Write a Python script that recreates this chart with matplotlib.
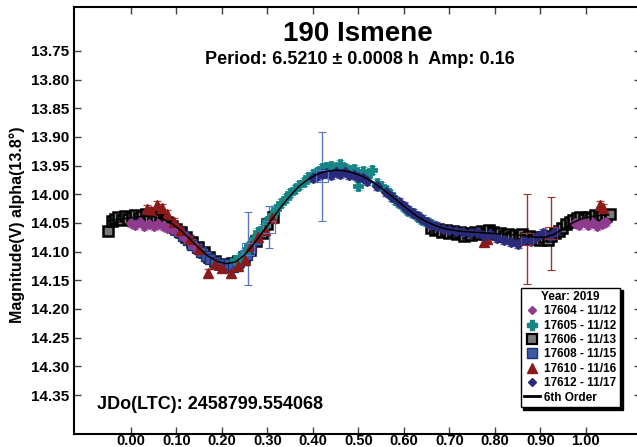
import matplotlib.pyplot as plt
from matplotlib.lines import Line2D

plt.rcParams['font.family'] = ['Liberation Sans', 'DejaVu Sans']
plt.rcParams['font.weight'] = 'bold'

# session 17604 - 11/12 (purple diamonds)
s04_ph = [0.000, 0.010, 0.020, 0.030, 0.040, 0.050, 0.060, 0.070, 0.080, 0.090, 0.100, 0.110, 0.120, 0.130, 0.140,
          0.975, 0.985, 0.995, 1.005, 1.015, 1.025, 1.035, 1.045]
s04_mag = [14.050, 14.053, 14.048, 14.055, 14.051, 14.056, 14.052, 14.055, 14.058, 14.060, 14.064, 14.068, 14.076, 14.083, 14.090,
           14.050, 14.053, 14.048, 14.054, 14.050, 14.055, 14.052, 14.049]

# session 17605 - 11/12 (teal pluses)
s05_ph = [0.230, 0.240, 0.250, 0.260, 0.270, 0.280, 0.290, 0.300, 0.310, 0.320, 0.330, 0.340, 0.350, 0.360, 0.370,
          0.380, 0.390, 0.400, 0.410, 0.420, 0.430, 0.440, 0.450, 0.460, 0.470, 0.480, 0.490, 0.500, 0.510, 0.520,
          0.530, 0.540, 0.550, 0.560, 0.570, 0.580, 0.590, 0.600, 0.610, 0.620, 0.630, 0.640, 0.650, 0.660]
s05_mag = [14.115, 14.110, 14.100, 14.090, 14.078, 14.066, 14.058, 14.046, 14.036, 14.026, 14.016, 14.006, 13.998, 13.990, 13.983,
           13.978, 13.970, 13.965, 13.962, 13.955, 13.952, 13.950, 13.954, 13.948, 13.955, 13.958, 13.956, 13.985, 13.960, 13.968,
           13.958, 13.980, 13.986, 13.993, 14.000, 14.010, 14.016, 14.022, 14.030, 14.032, 14.040, 14.044, 14.048, 14.052]

# session 17606 - 11/13 (gray squares)
s06_ph = [-0.050, -0.042, -0.035, -0.028, -0.020, -0.012, -0.005, 0.003, 0.010, 0.018, 0.025, 0.033, 0.040, 0.048, 0.056,
          0.064, 0.072, 0.080, 0.090, 0.100, 0.110, 0.122, 0.135, 0.148, 0.160, 0.172, 0.185, 0.197, 0.210, 0.222,
          0.235, 0.248, 0.262, 0.275, 0.288, 0.300, 0.312,
          0.660, 0.668, 0.676, 0.684, 0.692, 0.700, 0.708, 0.716, 0.724, 0.732, 0.740, 0.748, 0.756, 0.764, 0.772,
          0.780, 0.788, 0.796, 0.804, 0.812, 0.820, 0.828, 0.836, 0.844, 0.852, 0.860, 0.868, 0.876, 0.884, 0.892,
          0.900, 0.908, 0.916, 0.924, 0.932, 0.940, 0.948, 0.956, 0.964, 0.972, 0.980, 0.988, 0.996, 1.004, 1.012,
          1.020, 1.028, 1.036, 1.044, 1.052]
s06_mag = [14.064, 14.047, 14.043, 14.040, 14.045, 14.038, 14.043, 14.040, 14.036, 14.042, 14.038, 14.035, 14.041, 14.037, 14.040,
           14.043, 14.046, 14.049, 14.055, 14.060, 14.066, 14.074, 14.083, 14.092, 14.101, 14.110, 14.116, 14.121, 14.124, 14.120,
           14.117, 14.110, 14.097, 14.082, 14.068, 14.052, 14.040,
           14.058, 14.062, 14.060, 14.066, 14.063, 14.068, 14.064, 14.070, 14.066, 14.072, 14.067, 14.071, 14.065, 14.069, 14.064,
           14.068, 14.062, 14.066, 14.070, 14.068, 14.073, 14.069, 14.075, 14.071, 14.074, 14.070, 14.076, 14.072, 14.078, 14.074,
           14.079, 14.075, 14.080, 14.073, 14.068, 14.064, 14.058, 14.052, 14.048, 14.044, 14.042, 14.040, 14.043, 14.039, 14.041,
           14.037, 14.040, 14.036, 14.038, 14.035]

# session 17608 - 11/15 (blue squares)
s08_ph = [0.095, 0.105, 0.115, 0.125, 0.135, 0.145, 0.155, 0.165, 0.175, 0.185, 0.195, 0.205, 0.215, 0.225, 0.235,
          0.245, 0.255, 0.265, 0.275]
s08_mag = [14.058, 14.066, 14.072, 14.080, 14.088, 14.094, 14.101, 14.108, 14.113, 14.118, 14.121, 14.126, 14.122, 14.127, 14.120,
           14.115, 14.106, 14.094, 14.080]

# session 17610 - 11/16 (dark red triangles)
s10_ph = [0.035, 0.045, 0.058, 0.068, 0.080, 0.095, 0.110, 0.130, 0.150, 0.170, 0.185, 0.200, 0.220, 0.235, 0.250,
          0.265, 0.280, 0.295, 0.310, 0.775, 0.782, 1.030, 1.038]
s10_mag = [14.025, 14.030, 14.018, 14.024, 14.035, 14.048, 14.062, 14.078, 14.096, 14.138, 14.122, 14.128, 14.138, 14.125, 14.115,
           14.090, 14.074, 14.062, 14.042, 14.084, 14.078, 14.018, 14.024]

# session 17612 - 11/17 (navy diamonds)
s12_ph = [0.400, 0.410, 0.420, 0.430, 0.440, 0.450, 0.460, 0.470, 0.480, 0.490, 0.500, 0.510, 0.520, 0.540, 0.560,
          0.575, 0.590, 0.600, 0.610, 0.620, 0.630, 0.640, 0.650, 0.660, 0.670, 0.685, 0.700, 0.715, 0.730, 0.745,
          0.760, 0.775, 0.790, 0.805, 0.820, 0.835, 0.850, 0.865, 0.880, 0.895, 0.905, 0.920, 0.935]
s12_mag = [13.972, 13.968, 13.965, 13.963, 13.966, 13.962, 13.965, 13.962, 13.967, 13.966, 13.970, 13.972, 13.976, 13.985, 13.996,
           14.004, 14.014, 14.020, 14.027, 14.032, 14.038, 14.043, 14.048, 14.053, 14.056, 14.060, 14.062, 14.064, 14.066, 14.068,
           14.066, 14.072, 14.070, 14.076, 14.080, 14.084, 14.086, 14.080, 14.082, 14.072, 14.068, 14.072, 14.064]

# points with large errors
big_ph = [0.258, 0.304, 0.420, 0.871, 0.924]
big_mag = [14.095, 14.057, 13.969, 14.078, 14.068]
big_err = [0.064, 0.037, 0.077, 0.078, 0.064]
big_col = ['#5a78c8', '#5a78c8', '#5a78c8', '#a03030', '#a03030']

# 6th order fourier fit
fit_ph = [-0.05, -0.03, -0.01, 0.01, 0.03, 0.05, 0.07, 0.09, 0.11, 0.13, 0.15, 0.17, 0.19, 0.21, 0.23,
          0.25, 0.27, 0.29, 0.31, 0.33, 0.35, 0.37, 0.39, 0.41, 0.43, 0.45, 0.47, 0.49, 0.51, 0.53,
          0.55, 0.57, 0.59, 0.61, 0.63, 0.65, 0.67, 0.69, 0.71, 0.73, 0.75, 0.77, 0.79, 0.81, 0.83,
          0.85, 0.87, 0.89, 0.91, 0.93, 0.95, 0.97, 0.99, 1.01, 1.03, 1.05]
fit_mag = [14.046, 14.044, 14.042, 14.040, 14.038, 14.039, 14.043, 14.051, 14.063, 14.078, 14.094, 14.108, 14.117, 14.121, 14.118,
           14.106, 14.087, 14.066, 14.044, 14.022, 14.003, 13.986, 13.974, 13.965, 13.960, 13.958, 13.959, 13.963, 13.969, 13.978,
           13.989, 14.001, 14.014, 14.027, 14.039, 14.048, 14.055, 14.060, 14.063, 14.065, 14.066, 14.067, 14.068, 14.069, 14.070,
           14.071, 14.073, 14.075, 14.075, 14.070, 14.060, 14.050, 14.043, 14.039, 14.037, 14.036]

fig = plt.figure(figsize=(6.37, 4.47), dpi=100)
ax = fig.add_axes([74.3 / 637, 1 - 434 / 447, (641 - 74.3) / 637, (434 - 7.3) / 447])

def sess(ph, mag, marker, fc, ec, ecol, ms, mew=1.0):
    ax.errorbar(ph, mag, yerr=0.007, fmt=marker, ms=ms, mfc=fc, mec=ec, mew=mew,
                ecolor=ecol, elinewidth=0.9, capsize=3, capthick=0.9)

sess(s06_ph, s06_mag, 's', '#7a7a7a', 'black', '#8c8c8c', 7.5, 1.8)
sess(s08_ph, s08_mag, 's', '#3d5aa8', '#1f2f6f', '#6f86c8', 7.5, 1.0)
sess(s04_ph, s04_mag, 'D', '#8e3b8e', '#8e3b8e', '#c08ac0', 5.5)
sess(s05_ph, s05_mag, 'P', '#178585', '#178585', '#3aa5a5', 7.5, 0.6)
sess(s10_ph, s10_mag, '^', '#8b1a1a', '#8b1a1a', '#b04a4a', 7.0)
sess(s12_ph, s12_mag, 'D', '#2b2b7b', '#2b2b7b', '#5a5aa0', 5.5)

for p, m, e, c in zip(big_ph, big_mag, big_err, big_col):
    ax.errorbar([p], [m], yerr=e, fmt='s', ms=8, mfc='none', mec=c, mew=0.8,
                ecolor=c, elinewidth=1.0, capsize=3, capthick=1.0)

ax.plot(fit_ph, fit_mag, color='black', lw=1.1, zorder=5)

ax.set_xlim(-0.124, 1.121)
ax.set_ylim(14.418, 13.674)
xt = [i / 10 for i in range(11)]
ax.set_xticks(xt)
ax.set_xticklabels([f'{v:.2f}' for v in xt])
yt = [13.75 + 0.05 * i for i in range(13)]
ax.set_yticks(yt)
ax.set_yticklabels([f'{v:.2f}' for v in yt])
ax.tick_params(direction='in', top=True, right=True, length=5, width=1.0,
               labelsize=11, color='#404040')
ax.tick_params(axis='x', pad=0, labelsize=10.5)
ax.tick_params(axis='y', pad=3.5)
for lab in ax.get_xticklabels() + ax.get_yticklabels():
    lab.set_fontweight('bold')
for sp in ax.spines.values():
    sp.set_linewidth(1.5)

fig.text(17 / 637, 1 - 225 / 447, 'Magnitude(V) alpha(13.8°)', rotation=90,
         ha='center', va='center', fontsize=11.5, fontweight='bold')
fig.text(357.5 / 637, 1 - 34 / 447, '190 Ismene', ha='center', va='center',
         fontsize=20, fontweight='bold')
fig.text(360 / 637, 1 - 59 / 447, 'Period: 6.5210 ± 0.0008 h  Amp: 0.16',
         ha='center', va='center', fontsize=13, fontweight='bold')
ax.text(0.04, 0.07, 'JDo(LTC): 2458799.554068', transform=ax.transAxes,
        ha='left', va='center', fontsize=13, fontweight='bold')

handles = [
    Line2D([], [], ls='none', marker='D', ms=4.5, color='#8e3b8e'),
    Line2D([], [], ls='none', marker='P', ms=7, color='#178585'),
    Line2D([], [], ls='none', marker='s', ms=6.5, mfc='#7a7a7a', mec='black', mew=1.6),
    Line2D([], [], ls='none', marker='s', ms=6.5, mfc='#3d5aa8', mec='#1f2f6f'),
    Line2D([], [], ls='none', marker='^', ms=6.5, color='#8b1a1a'),
    Line2D([], [], ls='none', marker='D', ms=4.5, color='#2b2b7b'),
    Line2D([], [], color='black', lw=2),
]
labels = ['17604 - 11/12', '17605 - 11/12', '17606 - 11/13', '17608 - 11/15',
          '17610 - 11/16', '17612 - 11/17', '6th Order']
leg = ax.legend(handles, labels, title='Year: 2019', loc='lower right',
                bbox_to_anchor=(0.963, 0.063), borderaxespad=0, fontsize=8.5,
                title_fontproperties={'weight': 'bold', 'size': 8.5},
                fancybox=False, edgecolor='black', framealpha=1,
                shadow={'color': 'black', 'alpha': 1}, labelspacing=0.2,
                handlelength=1.3, handletextpad=0.4, borderpad=0.3)
leg.get_frame().set_linewidth(1.0)
leg.set_zorder(10)
for t in leg.get_texts():
    t.set_fontweight('bold')

fig.savefig('out.png', dpi=100)
